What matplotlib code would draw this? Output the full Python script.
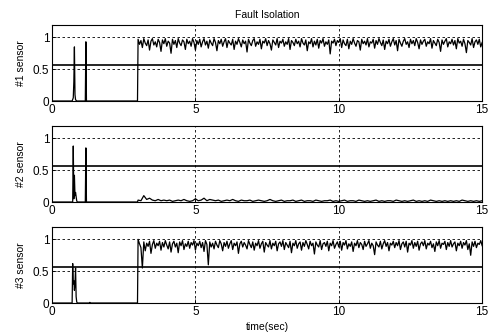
import matplotlib.pyplot as plt
import numpy as np

plt.rcParams['font.family'] = ['Liberation Sans', 'DejaVu Sans']

# ---- data ----
# before the fault (t < 3 s): spikes around 0.8 s and 1.2 s
pre1_t = [0, 0.70, 0.74, 0.76, 0.78, 0.80, 0.82, 0.86, 1.16, 1.18, 1.20, 2.98]
pre1_y = [0, 0, 0.05, 0.30, 0.85, 0.10, 0.02, 0, 0, 0.93, 0, 0]

pre2_t = [0, 0.72, 0.74, 0.76, 0.78, 0.80, 0.82, 0.84, 0.86, 0.88, 1.16, 1.18, 1.20, 2.98]
pre2_y = [0, 0, 0.88, 0.05, 0.42, 0.10, 0.15, 0.08, 0.02, 0, 0, 0.85, 0, 0]

pre3_t = [0, 0.70, 0.72, 0.74, 0.76, 0.78, 0.80, 0.82, 0.84, 0.86, 0.88, 1.30, 1.32, 1.34, 2.98]
pre3_y = [0, 0, 0.62, 0.30, 0.35, 0.20, 0.30, 0.55, 0.10, 0.02, 0, 0, 0.01, 0, 0]

# after the fault, sensors 1 and 3: 3 s .. 15 s every 0.05 s
post1 = [0.97, 0.89, 0.95, 0.84, 0.98, 0.91, 0.87, 0.96, 0.80, 0.94, 0.98, 0.88, 0.93, 0.85, 0.97, 0.92, 0.78, 0.96, 0.90, 0.98,
         0.86, 0.94, 0.91, 0.75, 0.97, 0.89, 0.95, 0.84, 0.98, 0.91, 0.87, 0.96, 0.93, 0.81, 0.97, 0.90, 0.94, 0.86, 0.98, 0.92,
         0.80, 0.95, 0.89, 0.97, 0.85, 0.93, 0.98, 0.88, 0.94, 0.83, 0.96, 0.91, 0.87, 0.98, 0.92, 0.79, 0.95, 0.90, 0.97, 0.86,
         0.93, 0.98, 0.84, 0.95, 0.91, 0.88, 0.97, 0.81, 0.94, 0.89, 0.98, 0.92, 0.85, 0.96, 0.90, 0.94, 0.77, 0.97, 0.91, 0.87,
         0.95, 0.98, 0.86, 0.93, 0.89, 0.97, 0.82, 0.94, 0.91, 0.98, 0.87, 0.95, 0.90, 0.80, 0.96, 0.92, 0.88, 0.98, 0.84, 0.94,
         0.91, 0.97, 0.86, 0.93, 0.89, 0.98, 0.81, 0.95, 0.92, 0.87, 0.97, 0.90, 0.94, 0.85, 0.98, 0.91, 0.88, 0.96, 0.79, 0.93,
         0.90, 0.98, 0.85, 0.94, 0.88, 0.97, 0.83, 0.95, 0.91, 0.98, 0.86, 0.93, 0.89, 0.96, 0.74, 0.94, 0.91, 0.97, 0.87, 0.95,
         0.92, 0.98, 0.84, 0.96, 0.90, 0.87, 0.97, 0.82, 0.94, 0.89, 0.98, 0.91, 0.86, 0.95, 0.93, 0.80, 0.97, 0.90, 0.94, 0.88,
         0.98, 0.85, 0.93, 0.91, 0.97, 0.83, 0.95, 0.89, 0.98, 0.92, 0.87, 0.96, 0.81, 0.94, 0.90, 0.97, 0.86, 0.93, 0.98, 0.88,
         0.95, 0.79, 0.97, 0.91, 0.86, 0.94, 0.98, 0.89, 0.93, 0.84, 0.97, 0.90, 0.95, 0.87, 0.98, 0.92, 0.82, 0.96, 0.89, 0.94,
         0.97, 0.86, 0.93, 0.90, 0.98, 0.83, 0.95, 0.91, 0.87, 0.97, 0.92, 0.78, 0.96, 0.89, 0.94, 0.98, 0.85, 0.93, 0.90, 0.97,
         0.88, 0.95, 0.82, 0.98, 0.91, 0.94, 0.86, 0.97, 0.90, 0.76, 0.95, 0.92, 0.88, 0.98, 0.84, 0.93, 0.96, 0.89, 0.97, 0.85,
         0.92]

post3 = [1.00, 0.93, 0.87, 0.55, 0.96, 0.82, 0.94, 0.89, 0.97, 0.78, 0.92, 0.98, 0.86, 0.94, 0.90, 0.97, 0.83, 0.95, 0.88, 0.98,
         0.91, 0.85, 0.96, 0.80, 0.93, 0.97, 0.88, 0.94, 0.79, 0.96, 0.90, 0.98, 0.84, 0.93, 0.89, 0.97, 0.86, 0.95, 0.91, 0.98,
         0.83, 0.94, 0.90, 0.97, 0.87, 0.95, 0.81, 0.98, 0.92, 0.60, 0.96, 0.88, 0.94, 0.85, 0.97, 0.91, 0.87, 0.98, 0.93, 0.82,
         0.95, 0.89, 0.97, 0.86, 0.93, 0.98, 0.84, 0.94, 0.90, 0.96, 0.78, 0.93, 0.97, 0.88, 0.95, 0.91, 0.85, 0.98, 0.92, 0.87,
         0.96, 0.83, 0.94, 0.90, 0.98, 0.86, 0.93, 0.97, 0.80, 0.95, 0.91, 0.88, 0.98, 0.85, 0.94, 0.90, 0.97, 0.82, 0.93, 0.96,
         0.89, 0.98, 0.84, 0.95, 0.91, 0.87, 0.97, 0.79, 0.94, 0.90, 0.98, 0.86, 0.93, 0.96, 0.83, 0.95, 0.89, 0.98, 0.92, 0.85,
         0.97, 0.90, 0.94, 0.77, 0.96, 0.91, 0.88, 0.98, 0.84, 0.93, 0.95, 0.89, 0.97, 0.82, 0.94, 0.90, 0.98, 0.86, 0.92, 0.96,
         0.88, 0.97, 0.83, 0.95, 0.91, 0.98, 0.85, 0.93, 0.89, 0.96, 0.81, 0.94, 0.90, 0.98, 0.87, 0.95, 0.92, 0.84, 0.97, 0.89,
         0.93, 0.98, 0.86, 0.94, 0.90, 0.76, 0.96, 0.91, 0.88, 0.97, 0.85, 0.93, 0.98, 0.89, 0.95, 0.82, 0.94, 0.91, 0.97, 0.87,
         0.95, 0.90, 0.98, 0.84, 0.93, 0.96, 0.88, 0.97, 0.80, 0.94, 0.91, 0.98, 0.86, 0.95, 0.89, 0.97, 0.83, 0.93, 0.96, 0.90,
         0.98, 0.85, 0.94, 0.91, 0.97, 0.87, 0.93, 0.81, 0.96, 0.90, 0.98, 0.86, 0.94, 0.92, 0.97, 0.84, 0.95, 0.89, 0.98, 0.88,
         0.93, 0.96, 0.82, 0.94, 0.90, 0.97, 0.86, 0.95, 0.91, 0.98, 0.84, 0.93, 0.75, 0.96, 0.89, 0.97, 0.87, 0.94, 0.92, 0.98,
         0.90]

# after the fault, sensor 2: 3 s .. 15 s every 0.1 s
post2 = [0.03, 0.02, 0.10, 0.04, 0.06, 0.03, 0.02, 0.04, 0.02, 0.03,
         0.02, 0.03, 0.01, 0.02, 0.03, 0.02, 0.04, 0.02, 0.01, 0.02,
         0.05, 0.02, 0.03, 0.06, 0.02, 0.04, 0.03, 0.02, 0.03, 0.01,
         0.02, 0.03, 0.02, 0.04, 0.02, 0.01, 0.03, 0.02, 0.02, 0.03,
         0.01, 0.02, 0.03, 0.02, 0.01, 0.02, 0.04, 0.02, 0.01, 0.02,
         0.03, 0.01, 0.02, 0.02, 0.03, 0.01, 0.02, 0.03, 0.01, 0.02,
         0.02, 0.01, 0.03, 0.02, 0.01, 0.02, 0.02, 0.03, 0.01, 0.02,
         0.01, 0.02, 0.03, 0.01, 0.02, 0.02, 0.01, 0.03, 0.02, 0.01,
         0.02, 0.01, 0.02, 0.03, 0.01, 0.02, 0.01, 0.02, 0.02, 0.01,
         0.03, 0.02, 0.01, 0.02, 0.01, 0.02, 0.03, 0.01, 0.02, 0.01,
         0.02, 0.01, 0.03, 0.02, 0.01, 0.02, 0.01, 0.02, 0.01, 0.02,
         0.01, 0.02, 0.01, 0.03, 0.02, 0.01, 0.02, 0.01, 0.02, 0.01, 0.02]

threshold = 0.57
sensor_labels = ["#1 sensor", "#2 sensor", "#3 sensor"]
x_ticks = [0, 5, 10, 15]
y_ticks = [0, 0.5, 1]
y_tick_labels = ["0", "0.5", "1"]

t_fine = list(np.linspace(3, 15, len(post1)))
t_coarse = list(np.linspace(3, 15, len(post2)))
series = [
    (pre1_t + t_fine, pre1_y + post1),
    (pre2_t + t_coarse, pre2_y + post2),
    (pre3_t + t_fine, pre3_y + post3),
]

fig = plt.figure(figsize=(4.91, 3.35), dpi=100)
bottoms = [0.6985, 0.397, 0.0955]
axes = [fig.add_axes([0.106, b, 0.876, 0.228]) for b in bottoms]

for ax, (t, y), lab in zip(axes, series, sensor_labels):
    ax.plot(t, y, color="black", linewidth=0.9)
    ax.axhline(threshold, color="black", linewidth=1.2)
    ax.set_xlim(0, 15)
    ax.set_ylim(0, 1.2)
    ax.set_xticks(x_ticks)
    ax.set_yticks(y_ticks)
    ax.set_yticklabels(y_tick_labels)
    ax.tick_params(direction="in", length=3, width=0.6, labelsize=8.5, pad=2)
    ax.grid(True, color="black", linestyle=(0, (3, 3)), linewidth=0.6)
    for s in ax.spines.values():
        s.set_linewidth(0.8)
    ax.set_ylabel(lab, fontsize=7.5, labelpad=5)

axes[0].set_title("Fault Isolation", fontsize=7.5, pad=5)
axes[2].set_xlabel("time(sec)", fontsize=7.5, labelpad=3)

plt.savefig("out.png", dpi=100)
